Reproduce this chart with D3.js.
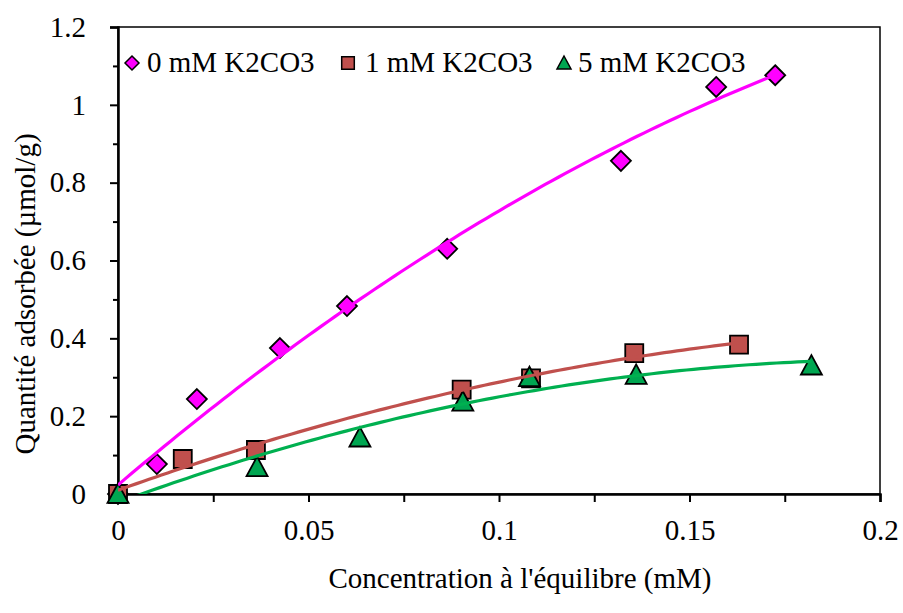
<!DOCTYPE html>
<html><head><meta charset="utf-8">
<script src="https://cdn.jsdelivr.net/npm/d3@7"></script>
<style>
html,body{margin:0;padding:0;background:#fff;}
svg{display:block;}
</style></head>
<body>
<svg id="chart" width="903" height="613"></svg>
<script>
// ---- data ----
const seriesNames = ["0 mM K2CO3", "1 mM K2CO3", "5 mM K2CO3"];
const x0 = [0, 0.0102, 0.0207, 0.0425, 0.0601, 0.0864, 0.132, 0.157, 0.1725];
const y0 = [0, 0.077, 0.244, 0.375, 0.483, 0.630, 0.856, 1.046, 1.076];
const x1 = [0, 0.017, 0.0362, 0.0902, 0.1084, 0.1355, 0.163];
const y1 = [0, 0.090, 0.113, 0.268, 0.297, 0.362, 0.384];
const x2 = [0, 0.0365, 0.0635, 0.0905, 0.108, 0.136, 0.182];
const y2 = [0, 0.069, 0.145, 0.237, 0.300, 0.306, 0.330];
const xTicks = [0, 0.05, 0.1, 0.15, 0.2];
const xTickLabels = ["0", "0.05", "0.1", "0.15", "0.2"];
const xMinorTicks = [0.025, 0.075, 0.125, 0.175];
const yTicks = [0, 0.2, 0.4, 0.6, 0.8, 1.0, 1.2];
const yTickLabels = ["0", "0.2", "0.4", "0.6", "0.8", "1", "1.2"];
const yMinorTicks = [0.1, 0.3, 0.5, 0.7, 0.9, 1.1];
const xTitle = "Concentration à l'équilibre (mM)";
const yTitle = "Quantité adsorbée (µmol/g)";

const colors = ["#FF00FF", "#C0504D", "#00A651"];
const lineColors = ["#FF00FF", "#C0504D", "#00B050"];
const shapes = ["diamond", "square", "triangle"];
const xs = [x0, x1, x2], ys = [y0, y1, y2];

// ---- layout ----
const L = 118, R = 880, T = 27, B = 494;
const FONT = 29;
const FAM = "Liberation Serif";
const svg = d3.select("#chart");
const x = d3.scaleLinear().domain([0, 0.2]).range([L, R]);
const y = d3.scaleLinear().domain([0, 1.2]).range([B, T]);

// frame (top/right)
svg.append("rect").attr("x", L).attr("y", T).attr("width", R - L).attr("height", B - T)
  .attr("fill", "none").attr("stroke", "#000").attr("stroke-width", 1.5);

// axes
const xAxis = svg.append("g").attr("transform", `translate(0,${B})`)
  .call(d3.axisBottom(x).tickValues(xTicks).tickFormat((d, i) => xTickLabels[i]).tickSize(8).tickPadding(17));
const xMinor = svg.append("g").attr("transform", `translate(0,${B})`)
  .call(d3.axisBottom(x).tickValues(xMinorTicks).tickFormat("").tickSize(8));
const yAxis = svg.append("g").attr("transform", `translate(${L},0)`)
  .call(d3.axisLeft(y).tickValues(yTicks).tickFormat((d, i) => yTickLabels[i]).tickSize(8).tickPadding(24));
const yMinor = svg.append("g").attr("transform", `translate(${L},0)`)
  .call(d3.axisLeft(y).tickValues(yMinorTicks).tickFormat("").tickSize(5));
[xAxis, xMinor, yAxis, yMinor].forEach(g => {
  g.attr("font-family", FAM).attr("font-size", FONT);
  g.select(".domain").attr("stroke", "#000").attr("stroke-width", 2.5);
  g.selectAll(".tick line").attr("stroke", "#000").attr("stroke-width", 2);
  g.selectAll("text").attr("font-size", FONT).attr("fill", "#000").attr("font-family", FAM);
});
xMinor.select(".domain").remove(); yMinor.select(".domain").remove();

// titles
svg.append("text").attr("x", 520).attr("y", 588).attr("text-anchor", "middle")
  .attr("font-family", FAM).attr("font-size", FONT).text(xTitle);
svg.append("text").attr("transform", "translate(35,294) rotate(-90)").attr("text-anchor", "middle")
  .attr("font-family", FAM).attr("font-size", FONT).text(yTitle);

// marker path generator
function markerPath(shape, s) {
  if (shape === "diamond") return `M0,${-s}L${s},0L0,${s}L${-s},0Z`;
  if (shape === "square") return `M${-s * 0.9},${-s * 0.9}H${s * 0.9}V${s * 0.9}H${-s * 0.9}Z`;
  return `M0,${-s}L${s},${s * 0.85}L${-s},${s * 0.85}Z`;
}

// quadratic least squares trendline
function quadFit(X, Y) {
  const S = [0, 0, 0, 0, 0], Ty = [0, 0, 0];
  X.forEach((xv, i) => {
    for (let k = 0; k < 5; k++) S[k] += Math.pow(xv, k);
    for (let k = 0; k < 3; k++) Ty[k] += Math.pow(xv, k) * Y[i];
  });
  const A = [[S[0], S[1], S[2], Ty[0]], [S[1], S[2], S[3], Ty[1]], [S[2], S[3], S[4], Ty[2]]];
  for (let c = 0; c < 3; c++) {
    for (let r = c + 1; r < 3; r++) {
      const f = A[r][c] / A[c][c];
      for (let k = c; k < 4; k++) A[r][k] -= f * A[c][k];
    }
  }
  const sol = [0, 0, 0];
  for (let r = 2; r >= 0; r--) {
    let s = A[r][3];
    for (let k = r + 1; k < 3; k++) s -= A[r][k] * sol[k];
    sol[r] = s / A[r][r];
  }
  return sol; // c, b, a
}

svg.append("clipPath").attr("id", "plotclip").append("rect")
  .attr("x", L).attr("y", T).attr("width", R - L).attr("height", B - T);

// markers
const sizes = [10, 10, 10.5];
xs.forEach((X, si) => {
  svg.append("g").selectAll("path").data(X.map((xv, i) => [xv, ys[si][i]])).join("path")
    .attr("transform", d => `translate(${x(d[0])},${y(d[1])})`)
    .attr("d", markerPath(shapes[si], sizes[si]))
    .attr("fill", colors[si]).attr("stroke", "#000").attr("stroke-width", 1.8)
    .attr("stroke-linejoin", "miter");
});

// trendlines (on top)
const lineGen = d3.line().x(d => x(d[0])).y(d => y(d[1]));
xs.forEach((X, si) => {
  const [c, b, a] = quadFit(X, ys[si]);
  const xmax = d3.max(X);
  const pts = d3.range(0, 101).map(k => { const xv = xmax * k / 100; return [xv, a * xv * xv + b * xv + c]; });
  svg.append("path").attr("clip-path", "url(#plotclip)").attr("d", lineGen(pts))
    .attr("fill", "none").attr("stroke", lineColors[si]).attr("stroke-width", 3.2);
});

// legend
const legX = [132, 348, 564], legTextX = [147, 365, 578];
seriesNames.forEach((n, si) => {
  svg.append("path").attr("transform", `translate(${legX[si]},63)`)
    .attr("d", markerPath(shapes[si], 7)).attr("fill", colors[si]).attr("stroke", "#000").attr("stroke-width", 1.5);
  svg.append("text").attr("x", legTextX[si]).attr("y", 72).attr("font-family", FAM).attr("font-size", FONT).text(n);
});
</script>
</body></html>
